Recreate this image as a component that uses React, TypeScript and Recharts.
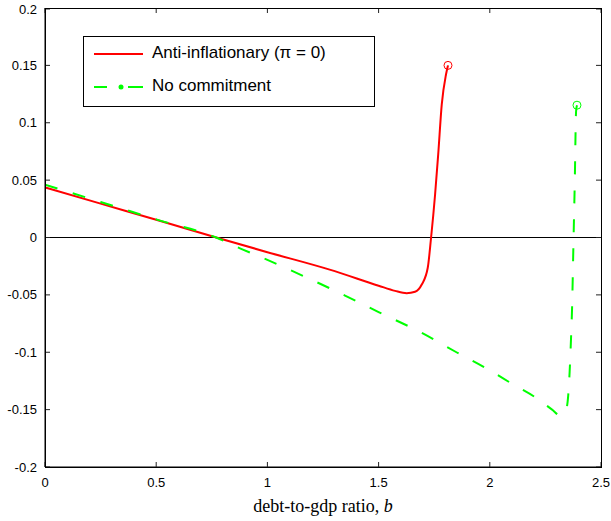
import React from 'react'
import { LineChart, Line, XAxis, YAxis, ReferenceLine } from 'recharts'

const xTicks = [0, 0.5, 1, 1.5, 2, 2.5]
const yTicks = [-0.2, -0.15, -0.1, -0.05, 0, 0.05, 0.1, 0.15, 0.2]

const redB = [0, 0.25, 0.5, 0.77, 1.0, 1.28, 1.5, 1.574, 1.626, 1.664, 1.694, 1.721, 1.736, 1.754, 1.768, 1.784, 1.803, 1.812]
const redV = [0.0437, 0.0295, 0.0155, 0, -0.0128, -0.028, -0.042, -0.0465, -0.0485, -0.0473, -0.041, -0.0264, 0, 0.0375, 0.0724, 0.116, 0.142, 0.15]

const greenB = [0, 0.25, 0.5, 0.77, 0.89, 1.0, 1.2, 1.349, 1.5, 1.686, 1.85, 2.0, 2.1, 2.21, 2.28, 2.316, 2.338, 2.35, 2.359, 2.365, 2.37, 2.376, 2.382, 2.388, 2.392]
const greenV = [0.046, 0.031, 0.0158, 0, -0.0105, -0.0195, -0.037, -0.0506, -0.065, -0.0823, -0.1, -0.1158, -0.1275, -0.14, -0.15, -0.155, -0.153, -0.143, -0.117, -0.089, -0.061, -0.006, 0.0477, 0.11, 0.1153]

const redData = redB.map((b, i) => ({ b, v: redV[i] }))
const greenData = greenB.map((b, i) => ({ b, v: greenV[i] }))

const W = 611
const H = 521
const M = { top: 8, right: 10, bottom: 0, left: 0 }
const AXIS_W = 45
const AXIS_H = 54
const PLOT_TOP = M.top
const PLOT_BOTTOM = H - M.bottom - AXIS_H
const PLOT_LEFT = M.left + AXIS_W
const PLOT_RIGHT = W - M.right

const font = 'Liberation Sans, Arial, sans-serif'
const TICK = 5
const tickColor = '#222'

// inward ticks on all four sides, MATLAB style; the top/right ones mirror the bottom/left
function BottomTick(p: any) {
  return (
    <g>
      <line x1={p.x} x2={p.x} y1={PLOT_BOTTOM} y2={PLOT_BOTTOM - TICK} stroke={tickColor} strokeWidth={1} />
      <line x1={p.x} x2={p.x} y1={PLOT_TOP} y2={PLOT_TOP + TICK} stroke={tickColor} strokeWidth={1} />
      <text x={p.x} y={PLOT_BOTTOM + 20} textAnchor="middle" fontFamily={font} fontSize={13} fill="#000">{p.payload.value}</text>
    </g>
  )
}
function LeftTick(p: any) {
  return (
    <g>
      <line x1={PLOT_LEFT} x2={PLOT_LEFT + TICK} y1={p.y} y2={p.y} stroke={tickColor} strokeWidth={1} />
      <line x1={PLOT_RIGHT} x2={PLOT_RIGHT - TICK} y1={p.y} y2={p.y} stroke={tickColor} strokeWidth={1} />
      <text x={PLOT_LEFT - 8} y={p.y + 4.5} textAnchor="end" fontFamily={font} fontSize={13} fill="#000">{p.payload.value}</text>
    </g>
  )
}

function endDot(color: string, last: number) {
  return (props: any) => {
    if (props.index !== last) return <g key={props.index} />
    return <circle key={props.index} cx={props.cx} cy={props.cy} r={4} fill="none" stroke={color} strokeWidth={1} />
  }
}

function LegendBox() {
  return (
    <div style={{ position: 'absolute', left: 83, top: 36, width: 290, height: 69, border: '1px solid #000', background: '#fff', fontFamily: font, fontSize: 17 }}>
      <svg width={60} height={69} style={{ position: 'absolute', left: 0, top: 0 }}>
        <line x1={10} x2={59} y1={17} y2={17} stroke="#ff0000" strokeWidth={2} />
        <line x1={10} x2={23} y1={50} y2={50} stroke="#00ff00" strokeWidth={2} />
        <circle cx={37} cy={50} r={2.5} fill="#00ff00" />
        <line x1={44} x2={59} y1={50} y2={50} stroke="#00ff00" strokeWidth={2} />
      </svg>
      <div style={{ position: 'absolute', left: 68, top: 6 }}>Anti-inflationary (π = 0)</div>
      <div style={{ position: 'absolute', left: 68, top: 39 }}>No commitment</div>
    </div>
  )
}

export default function App() {
  return (
    <div style={{ position: 'absolute', left: 0, top: 0, width: W, height: H, background: '#fff' }}>
      <LineChart width={W} height={H} margin={M}>
        <XAxis
          type="number"
          dataKey="b"
          domain={[0, 2.5]}
          ticks={xTicks}
          allowDataOverflow
          height={AXIS_H}
          tick={<BottomTick />}
          tickLine={false}
          axisLine={{ stroke: '#000' }}
          label={(p: any) => {
            const vb = p.viewBox
            return (
              <text x={vb.x + vb.width / 2} y={vb.y + 45} textAnchor="middle" fontFamily="Liberation Serif, DejaVu Serif, serif" fontSize={18} fill="#000">
                debt-to-gdp ratio, <tspan fontStyle="italic">b</tspan>
              </text>
            )
          }}
        />
        <YAxis
          type="number"
          domain={[-0.2, 0.2]}
          ticks={yTicks}
          allowDataOverflow
          width={AXIS_W}
          tick={<LeftTick />}
          tickLine={false}
          axisLine={{ stroke: '#000' }}
        />
        <ReferenceLine y={0} stroke="#000" strokeWidth={1} />
        <Line
          data={redData}
          dataKey="v"
          type="monotone"
          stroke="#ff0000"
          strokeWidth={2}
          dot={endDot('#ff0000', redData.length - 1)}
          activeDot={false}
          isAnimationActive={false}
        />
        <Line
          data={greenData}
          dataKey="v"
          type="monotone"
          stroke="#00ff00"
          strokeWidth={2}
          strokeDasharray="13 16"
          dot={endDot('#00ff00', greenData.length - 1)}
          activeDot={false}
          isAnimationActive={false}
        />
      </LineChart>
      {/* plot box */}
      <div style={{ position: 'absolute', left: PLOT_LEFT, top: PLOT_TOP, width: PLOT_RIGHT - PLOT_LEFT - 1, height: PLOT_BOTTOM - PLOT_TOP - 1, border: '1px solid #000', pointerEvents: 'none' }} />
      <LegendBox />
    </div>
  )
}
